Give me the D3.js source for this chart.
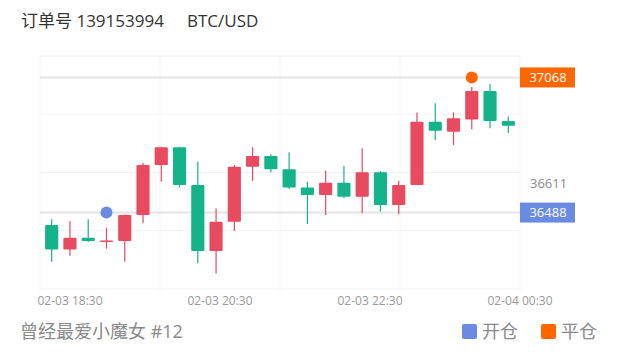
<!DOCTYPE html>
<html>
<head>
<meta charset="utf-8">
<script src="https://cdn.jsdelivr.net/npm/d3@7"></script>
<style>
  body { margin: 0; background: #fff; }
  svg { display: block; font-family: "Open Sans", "Noto Sans CJK SC", sans-serif; }
</style>
</head>
<body>
<div id="chart"></div>
<script>
// 15 min candles, BTC/USD
const times = ["02-03 18:15", "02-03 18:30", "02-03 18:45", "02-03 19:00", "02-03 19:15", "02-03 19:30",
  "02-03 19:45", "02-03 20:00", "02-03 20:15", "02-03 20:30", "02-03 20:45", "02-03 21:00", "02-03 21:15",
  "02-03 21:30", "02-03 21:45", "02-03 22:00", "02-03 22:15", "02-03 22:30", "02-03 22:45", "02-03 23:00",
  "02-03 23:15", "02-03 23:30", "02-03 23:45", "02-04 00:00", "02-04 00:15", "02-04 00:30"];
const openPrices  = [36435, 36330, 36380, 36366, 36366, 36478, 36692, 36768, 36606, 36323, 36449, 36685, 36731,
  36674, 36596, 36563, 36616, 36556, 36661, 36520, 36606, 36878, 36835, 36888, 37010, 36881];
const closePrices = [36330, 36380, 36366, 36368, 36478, 36692, 36768, 36606, 36323, 36449, 36685, 36731, 36674,
  36596, 36563, 36616, 36556, 36661, 36520, 36606, 36878, 36839, 36893, 37010, 36881, 36861];
const highPrices  = [36459, 36452, 36459, 36423, 36480, 36702, 36770, 36770, 36706, 36506, 36692, 36768, 36738,
  36747, 36620, 36668, 36688, 36764, 36666, 36625, 36918, 36957, 36918, 37027, 37040, 36900];
const lowPrices   = [36277, 36303, 36362, 36333, 36277, 36442, 36620, 36596, 36270, 36227, 36409, 36624, 36661,
  36589, 36439, 36478, 36549, 36485, 36492, 36481, 36606, 36800, 36778, 36845, 36850, 36830];

const tickLabels = ["02-03 18:30", "02-03 20:30", "02-03 22:30", "02-04 00:30"];
const priceDomain = [36160, 37160];

// trades: open / close position
const tradeNames  = ["开仓", "平仓"];
const tradeTimes  = ["02-03 19:00", "02-04 00:00"];
const tradePrices = [36488, 37068];
const refPrice = 36611;

const orderNo = "订单号 139153994";
const symbol = "BTC/USD";
const footer = "曾经最爱小魔女 #12";

const W = 620, H = 352;
const margin = { top: 56, right: 100, bottom: 63, left: 40 };
const innerW = W - margin.left - margin.right;
const innerH = H - margin.top - margin.bottom;

const RED = "#e84a5f", GREEN = "#14b38a";
const tradeColor = d3.scaleOrdinal().domain(tradeNames).range(["#6b8be2", "#ff6600"]);

const candles = times.map((t, i) => ({
  time: t, open: openPrices[i], close: closePrices[i], high: highPrices[i], low: lowPrices[i]
}));
const trades = tradeNames.map((n, i) => ({ name: n, time: tradeTimes[i], price: tradePrices[i] }));

const svg = d3.select("#chart").append("svg")
  .attr("width", W).attr("height", H);

svg.append("text").attr("x", 21).attr("y", 27)
  .attr("font-size", 17).attr("fill", "#333").text(orderNo);
svg.append("text").attr("x", 187).attr("y", 27)
  .attr("font-size", 17).attr("fill", "#333").text(symbol);

const g = svg.append("g").attr("transform", `translate(${margin.left},${margin.top})`);

const x = d3.scaleBand().domain(times).range([0, innerW]).padding(0.28);
const y = d3.scaleLinear().domain(priceDomain).range([innerH, 0]);
// label positions run on their own scale
const xLabel = d3.scaleLinear().domain([0, times.length - 1]).range([11.25, innerW]);

// grid
const gridY = d3.range(5).map(i => priceDomain[0] + i * (priceDomain[1] - priceDomain[0]) / 4);
g.selectAll(".gy").data(gridY).join("line")
  .attr("x1", 0).attr("x2", innerW)
  .attr("y1", d => y(d)).attr("y2", d => y(d))
  .attr("stroke", "#f2f2f2").attr("stroke-width", 1);
g.selectAll(".gx").data(d3.range(5)).join("line")
  .attr("x1", d => d * innerW / 4).attr("x2", d => d * innerW / 4)
  .attr("y1", 0).attr("y2", innerH + 4)
  .attr("stroke", "#f4f4f4").attr("stroke-width", 1);

// price guide lines
g.selectAll(".guide").data(trades).join("line")
  .attr("x1", 0).attr("x2", innerW)
  .attr("y1", d => y(d.price)).attr("y2", d => y(d.price))
  .attr("stroke", "#e4e4e4").attr("stroke-width", 2);

// candles
const c = g.selectAll(".candle").data(candles).join("g")
  .attr("transform", d => `translate(${x(d.time)},0)`);
c.append("line")
  .attr("x1", x.bandwidth() / 2).attr("x2", x.bandwidth() / 2)
  .attr("y1", d => y(d.high)).attr("y2", d => y(d.low))
  .attr("stroke", d => d.close >= d.open ? RED : GREEN).attr("stroke-width", 1.2);
c.append("rect")
  .attr("width", x.bandwidth()).attr("rx", 1)
  .attr("y", d => y(Math.max(d.open, d.close)))
  .attr("height", d => Math.max(1.5, Math.abs(y(d.open) - y(d.close))))
  .attr("fill", d => d.close >= d.open ? RED : GREEN);

// trade markers
g.selectAll(".trade").data(trades).join("circle")
  .attr("cx", d => x(d.time) + x.bandwidth() / 2)
  .attr("cy", d => y(d.price))
  .attr("r", 6)
  .attr("fill", d => tradeColor(d.name));

// right side price tags
const tag = g.selectAll(".tag").data(trades).join("g")
  .attr("transform", d => `translate(${innerW},${y(d.price)})`);
tag.append("rect").attr("x", 0).attr("y", -10).attr("width", 55).attr("height", 20)
  .attr("fill", d => tradeColor(d.name));
tag.append("text").attr("x", 28).attr("y", 0).attr("dy", "0.35em")
  .attr("text-anchor", "middle").attr("font-size", 13).attr("fill", "#fff")
  .text(d => d.price);
g.append("text").attr("x", innerW + 10).attr("y", y(refPrice)).attr("dy", "0.35em")
  .attr("font-size", 13).attr("fill", "#8c8c8c").text(refPrice);

// x labels
g.selectAll(".xl").data(tickLabels).join("text")
  .attr("x", d => xLabel(times.indexOf(d)))
  .attr("y", innerH + 16)
  .attr("text-anchor", "middle").attr("font-size", 12).attr("fill", "#999")
  .text(d => d);

// footer
svg.append("text").attr("x", 20).attr("y", 338)
  .attr("font-size", 18).attr("fill", "#8a8a8a").text(footer);
const lg = svg.selectAll(".lg").data(tradeNames).join("g")
  .attr("transform", (d, i) => `translate(${462 + i * 79},324)`);
lg.append("rect").attr("width", 15).attr("height", 15).attr("rx", 2)
  .attr("fill", d => tradeColor(d));
lg.append("text").attr("x", 20).attr("y", 14)
  .attr("font-size", 18).attr("fill", "#8a8a8a").text(d => d);
</script>
</body>
</html>
